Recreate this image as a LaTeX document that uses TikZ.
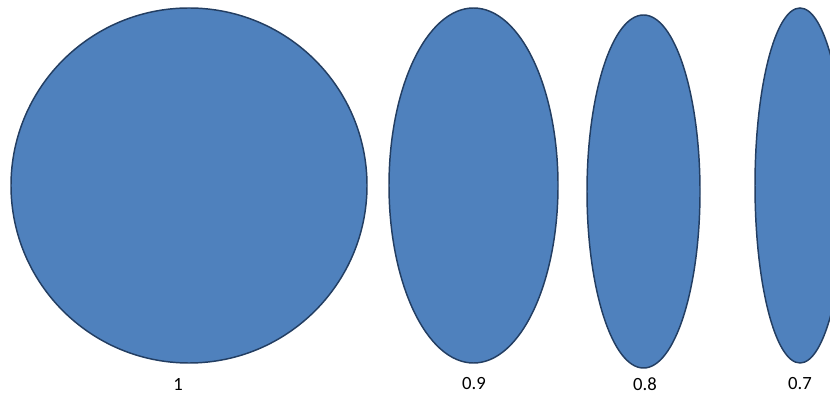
\documentclass[tikz,border=0pt]{standalone}
\usepackage{fontspec}
\setmainfont{Carlito}
\usetikzlibrary{shapes.geometric}
\definecolor{ovalfill}{HTML}{4F81BD}
\definecolor{ovaledge}{HTML}{233E62}
\begin{document}
\begin{tikzpicture}[x=0.75pt, y=-0.75pt, every node/.style={align=center, font=\fontsize{14}{16}\selectfont},
  oval/.style={draw=ovaledge, line width=1.1pt, fill=ovalfill, ellipse, inner sep=0pt}]
  \useasboundingbox (0,0) rectangle (830,398);
  \clip (0,0) rectangle (830,398);

  % Ratio 1
  \node[oval, minimum width=356*0.75pt, minimum height=355*0.75pt] (o1) at (189, 185.5) {};
  \node (l1) at (178, 384) {1};

  % Ratio 0.9
  \node[oval, minimum width=169*0.75pt, minimum height=355*0.75pt] (o2) at (473.5, 185.5) {};
  \node (l2) at (474, 384) {0.9};

  % Ratio 0.8
  \node[oval, minimum width=113*0.75pt, minimum height=353*0.75pt] (o3) at (643.5, 191.5) {};
  \node (l3) at (645, 384) {0.8};

  % Ratio 0.7
  \node[oval, minimum width=90*0.75pt, minimum height=355*0.75pt] (o4) at (800, 185.5) {};
  \node (l4) at (800, 384) {0.7};
\end{tikzpicture}
\end{document}
